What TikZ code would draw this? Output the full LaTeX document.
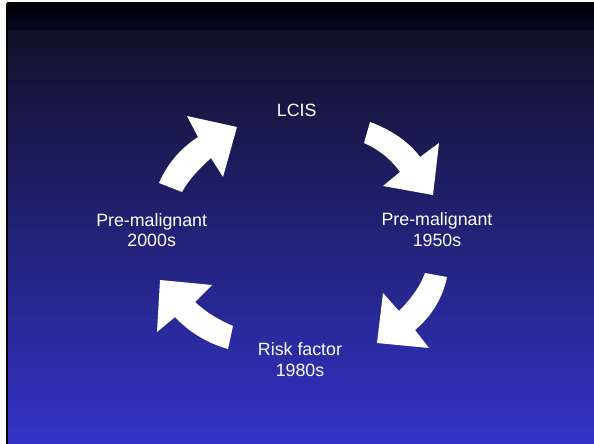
\documentclass[tikz,border=0pt]{standalone}
\usepackage{fontspec}
\setmainfont{Liberation Sans}
\begin{document}
\begin{tikzpicture}[x=1pt,y=-1pt,
  lbl/.style={text=white,inner sep=0pt,anchor=base,font=\fontsize{17.8pt}{20.7pt}\selectfont},
  blockarrow/.style={fill=white,draw=none}]
\useasboundingbox (0,0) rectangle (594,444);
\fill[white] (0,0) rectangle (594,444);
% slide background
\shade[top color={rgb,255:red,17;green,17;blue,40},bottom color={rgb,255:red,51;green,51;blue,200}] (7,29) rectangle (594,444);
\shade[top color={rgb,255:red,0;green,0;blue,8},bottom color={rgb,255:red,6;green,6;blue,34}] (7,3) rectangle (594,29.3);
\fill[black] (6,3) rectangle (8.3,444);
% block arrows
\fill[blockarrow] (370,122) .. controls (392,130) and (410,143) .. (420,157) -- (439,143) -- (433,195) -- (383,186) -- (400,172) .. controls (392,160) and (378,149) .. (364,143) -- cycle;
\fill[blockarrow] (425,273) -- (447,277) .. controls (443,297) and (432,316) .. (415,330) -- (429,348) -- (377,343) -- (383,293) -- (399,311) .. controls (410,300) and (420,287) .. (425,273) -- cycle;
\fill[blockarrow] (233,326) -- (228,349) .. controls (207,343) and (189,332) .. (175,317) -- (157,332) -- (160,280) -- (212,285) -- (195,302) .. controls (207,313) and (219,320) .. (233,326) -- cycle;
\fill[blockarrow] (159,183) .. controls (167,164) and (181,148) .. (198,137) -- (187,116) -- (237,127) -- (223,177) -- (211,158) .. controls (200,168) and (189,179) .. (182,192) -- cycle;
% labels
\node[lbl] (lcis) at (296.7,116.7) {LCIS};
\node[lbl] (pmr1) at (437,225.5) {Pre-malignant};
\node[lbl] (pmr2) at (437,246.5) {1950s};
\node[lbl] (rf1) at (300,355) {Risk factor};
\node[lbl] (rf2) at (300,376) {1980s};
\node[lbl] (pml1) at (151.7,226) {Pre-malignant};
\node[lbl] (pml2) at (151.7,246.7) {2000s};
\end{tikzpicture}
\end{document}
